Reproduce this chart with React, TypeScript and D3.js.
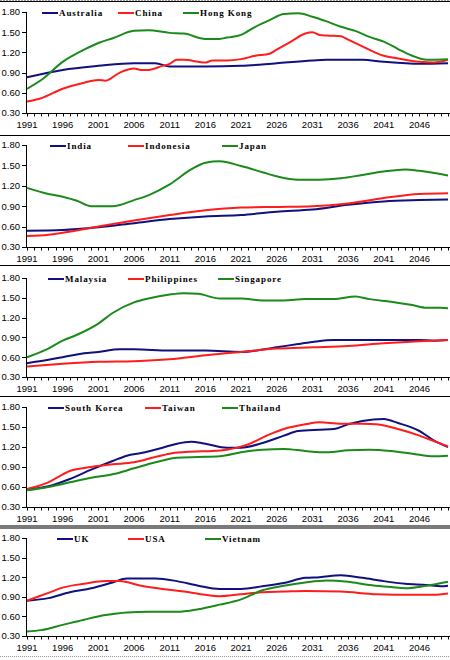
import React from "react";
import * as d3 from "d3";

type Pt = [number, number];

const yTicks = [0.3, 0.6, 0.9, 1.2, 1.5, 1.8];
const yearLabels = [1991, 1996, 2001, 2006, 2011, 2016, 2021, 2026, 2031, 2036, 2041, 2046];
const years = d3.range(1991, 2051);

// Panel 1
const australia: Pt[] = [[1991,0.83],[1996,0.94],[2001,1.0],[2006,1.04],[2009,1.04],[2011,0.99],[2016,0.99],[2021,1.0],[2026,1.04],[2031,1.08],[2033,1.09],[2038,1.09],[2041,1.06],[2046,1.03],[2050,1.04]];
const china: Pt[] = [[1991,0.47],[1993,0.52],[1996,0.66],[1999,0.75],[2001,0.79],[2002,0.78],[2004,0.9],[2006,0.96],[2007,0.94],[2008,0.94],[2010,1.0],[2011,1.03],[2012,1.09],[2013,1.09],[2016,1.05],[2017,1.08],[2019,1.08],[2021,1.1],[2023,1.15],[2025,1.18],[2026,1.24],[2028,1.36],[2030,1.48],[2031,1.5],[2032,1.46],[2033,1.45],[2035,1.44],[2036,1.39],[2038,1.29],[2040,1.19],[2041,1.15],[2043,1.11],[2046,1.06],[2048,1.05],[2050,1.09]];
const hongKong: Pt[] = [[1991,0.66],[1993,0.79],[1996,1.06],[1999,1.24],[2001,1.34],[2003,1.41],[2006,1.52],[2008,1.53],[2011,1.49],[2013,1.48],[2016,1.4],[2018,1.4],[2019,1.42],[2021,1.46],[2023,1.58],[2025,1.68],[2027,1.77],[2029,1.78],[2031,1.73],[2033,1.66],[2035,1.58],[2037,1.52],[2039,1.43],[2041,1.36],[2043,1.25],[2045,1.15],[2047,1.09],[2050,1.1]];

// Panel 2
const india: Pt[] = [[1991,0.54],[1996,0.55],[2001,0.59],[2006,0.65],[2011,0.71],[2016,0.75],[2021,0.77],[2026,0.82],[2031,0.85],[2036,0.92],[2041,0.97],[2046,0.99],[2050,1.0]];
const indonesia: Pt[] = [[1991,0.46],[1994,0.48],[1996,0.51],[2001,0.6],[2006,0.69],[2011,0.77],[2016,0.84],[2021,0.88],[2026,0.89],[2031,0.9],[2036,0.94],[2041,1.02],[2046,1.08],[2050,1.09]];
const japan: Pt[] = [[1991,1.17],[1994,1.08],[1996,1.04],[1998,0.98],[2000,0.9],[2003,0.9],[2006,0.99],[2008,1.06],[2011,1.22],[2014,1.44],[2016,1.54],[2018,1.56],[2021,1.49],[2024,1.4],[2026,1.34],[2029,1.29],[2032,1.29],[2035,1.31],[2038,1.36],[2041,1.41],[2044,1.44],[2046,1.42],[2050,1.35]];

// Panel 3
const malaysia: Pt[] = [[1991,0.51],[1994,0.56],[1996,0.6],[1999,0.66],[2001,0.68],[2004,0.72],[2006,0.72],[2011,0.7],[2016,0.7],[2021,0.68],[2026,0.75],[2029,0.8],[2031,0.83],[2034,0.86],[2040,0.86],[2046,0.86],[2048,0.85],[2050,0.86]];
const philippines: Pt[] = [[1991,0.46],[1996,0.5],[2001,0.53],[2006,0.54],[2011,0.57],[2016,0.63],[2021,0.68],[2026,0.73],[2031,0.75],[2036,0.77],[2041,0.81],[2046,0.84],[2050,0.86]];
const singapore: Pt[] = [[1991,0.6],[1994,0.73],[1996,0.85],[1998,0.94],[2001,1.11],[2003,1.27],[2006,1.43],[2008,1.49],[2011,1.55],[2013,1.57],[2015,1.56],[2018,1.49],[2021,1.49],[2024,1.46],[2027,1.46],[2030,1.48],[2034,1.48],[2037,1.52],[2039,1.48],[2042,1.44],[2045,1.39],[2047,1.35],[2049,1.35],[2050,1.34]];

// Panel 4
const southKorea: Pt[] = [[1991,0.56],[1994,0.61],[1997,0.72],[2000,0.86],[2003,0.99],[2005,1.07],[2007,1.11],[2010,1.19],[2012,1.25],[2014,1.28],[2016,1.25],[2019,1.19],[2021,1.19],[2024,1.26],[2027,1.37],[2029,1.44],[2032,1.46],[2034,1.47],[2036,1.54],[2038,1.59],[2041,1.62],[2043,1.56],[2046,1.44],[2048,1.3],[2050,1.2]];
const taiwan: Pt[] = [[1991,0.57],[1994,0.67],[1997,0.84],[2000,0.9],[2003,0.94],[2006,0.97],[2009,1.05],[2011,1.1],[2014,1.13],[2017,1.14],[2019,1.16],[2022,1.24],[2025,1.39],[2027,1.47],[2030,1.54],[2032,1.57],[2035,1.55],[2038,1.55],[2040,1.54],[2043,1.47],[2046,1.37],[2048,1.29],[2050,1.21]];
const thailand: Pt[] = [[1991,0.55],[1994,0.6],[1997,0.67],[2000,0.74],[2003,0.79],[2006,0.88],[2009,0.97],[2012,1.04],[2015,1.05],[2018,1.06],[2021,1.12],[2024,1.16],[2027,1.17],[2030,1.14],[2033,1.12],[2036,1.15],[2039,1.16],[2042,1.14],[2045,1.1],[2048,1.06],[2050,1.07]];

// Panel 5
const uk: Pt[] = [[1991,0.84],[1994,0.88],[1997,0.97],[2000,1.03],[2003,1.12],[2005,1.18],[2009,1.18],[2012,1.14],[2015,1.07],[2018,1.02],[2021,1.02],[2024,1.06],[2027,1.11],[2030,1.19],[2032,1.2],[2035,1.23],[2038,1.19],[2041,1.14],[2044,1.1],[2047,1.08],[2049,1.06],[2050,1.07]];
const usa: Pt[] = [[1991,0.84],[1994,0.96],[1996,1.04],[1999,1.1],[2002,1.14],[2004,1.14],[2007,1.07],[2010,1.02],[2013,0.98],[2016,0.93],[2018,0.91],[2021,0.94],[2024,0.97],[2027,0.98],[2030,0.99],[2035,0.98],[2040,0.94],[2045,0.93],[2048,0.93],[2050,0.95]];
const vietnam: Pt[] = [[1991,0.37],[1993,0.39],[1996,0.47],[1999,0.55],[2002,0.62],[2005,0.66],[2008,0.67],[2012,0.67],[2015,0.71],[2018,0.78],[2021,0.86],[2024,1.0],[2027,1.07],[2030,1.12],[2033,1.15],[2036,1.13],[2039,1.08],[2042,1.05],[2044,1.03],[2047,1.07],[2050,1.13]];

const names = [
  ["Australia", "China", "Hong Kong"],
  ["India", "Indonesia", "Japan"],
  ["Malaysia", "Philippines", "Singapore"],
  ["South Korea", "Taiwan", "Thailand"],
  ["UK", "USA", "Vietnam"],
];
const seriesData: Pt[][][] = [
  [australia, china, hongKong],
  [india, indonesia, japan],
  [malaysia, philippines, singapore],
  [southKorea, taiwan, thailand],
  [uk, usa, vietnam],
];

const colors = ["#10107e", "#ff1c1c", "#1b8a1b"];
const panelTop = [12, 145, 278, 407, 538];
const panelBottom = [113, 247, 377, 507, 636];
const legendX = [
  [42, 118, 183],
  [50, 128, 222],
  [48, 128, 218],
  [48, 145, 222],
  [57, 128, 205],
];

const x = d3.scaleLinear().domain([1991, 2050]).range([27, 448]);
const tickFont = "'Liberation Sans Narrow', 'Liberation Sans', Arial, sans-serif";
const legendFont = "'Liberation Serif', 'Times New Roman', serif";

function Panel({ i }: { i: number }) {
  const y = d3.scaleLinear().domain([0.3, 1.8]).range([panelBottom[i], panelTop[i]]);
  const line = d3
    .line<Pt>()
    .x((d) => x(d[0]))
    .y((d) => y(d[1]))
    .curve(d3.curveMonotoneX);
  const b = panelBottom[i];
  return (
    <g>
      {/* axes */}
      <line x1={26.5} x2={26.5} y1={panelTop[i]} y2={b} stroke="#000" strokeWidth={1} />
      <line x1={26} x2={450} y1={b + 0.5} y2={b + 0.5} stroke="#000" strokeWidth={1} />
      {yTicks.map((t) => (
        <g key={t}>
          <line x1={22} x2={26} y1={Math.round(y(t)) + 0.5} y2={Math.round(y(t)) + 0.5} stroke="#000" />
          <text x={20} y={y(t)} dy="0.35em" textAnchor="end" fontFamily={tickFont} fontSize={9.5} fill="#000">
            {t.toFixed(2)}
          </text>
        </g>
      ))}
      {years.map((yr) => (
        <line key={yr} x1={Math.round(x(yr)) + 0.5} x2={Math.round(x(yr)) + 0.5} y1={b} y2={b + 3.5} stroke="#000" />
      ))}
      {yearLabels.map((yr) => (
        <text key={yr} x={x(yr)} y={b + 15} textAnchor="middle" fontFamily={tickFont} fontSize={9.5} fill="#000">
          {yr}
        </text>
      ))}
      {/* series */}
      {seriesData[i].map((s, k) => (
        <path key={k} d={line(s) || ""} fill="none" stroke={colors[k]} strokeWidth={2} />
      ))}
      {/* legend */}
      {names[i].map((n, k) => (
        <g key={n}>
          <line
            x1={legendX[i][k]}
            x2={legendX[i][k] + 16}
            y1={panelTop[i] + 1}
            y2={panelTop[i] + 1}
            stroke={colors[k]}
            strokeWidth={2}
          />
          <text
            x={legendX[i][k] + 17}
            y={panelTop[i] + 1}
            dy="0.35em"
            fontFamily={legendFont}
            fontWeight="bold"
            fontSize={9}
            letterSpacing={0.9}
            fill="#000"
          >
            {n}
          </text>
        </g>
      ))}
    </g>
  );
}

export default function App() {
  return (
    <svg
      width={450}
      height={660}
      style={{ position: "absolute", left: 0, top: 0, background: "#fff" }}
    >
      <rect x={0} y={0} width={450} height={660} fill="#fff" />
      <line x1={0} x2={450} y1={0.5} y2={0.5} stroke="#999" strokeDasharray="2,1" />
      <line x1={0} x2={450} y1={1.5} y2={1.5} stroke="#000" />
      <line x1={0} x2={450} y1={135.5} y2={135.5} stroke="#000" />
      <line x1={0} x2={450} y1={265.5} y2={265.5} stroke="#000" />
      <line x1={0} x2={450} y1={396.5} y2={396.5} stroke="#000" />
      <rect x={0} y={525} width={450} height={4} fill="#7a7a7a" />
      <line x1={0} x2={450} y1={656.5} y2={656.5} stroke="#999" strokeDasharray="1,1" />
      {[0, 1, 2, 3, 4].map((i) => (
        <Panel key={i} i={i} />
      ))}
    </svg>
  );
}
